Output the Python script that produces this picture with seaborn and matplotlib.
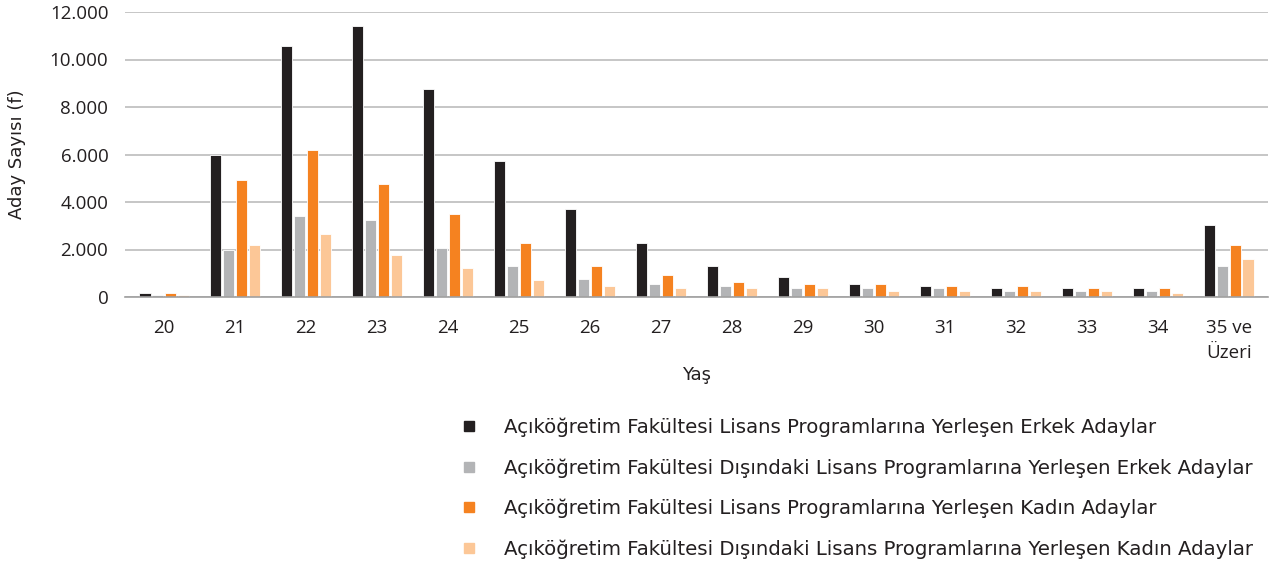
import numpy as np
import pandas as pd
import matplotlib.pyplot as plt
import matplotlib.ticker as mticker
from matplotlib.lines import Line2D
import seaborn as sns

# Data
ages = ["20", "21", "22", "23", "24", "25", "26", "27", "28", "29",
        "30", "31", "32", "33", "34", "35 ve\nÜzeri"]
aof_erkek = [150, 6000, 10580, 11430, 8750, 5710, 3700, 2270, 1320, 840,
             550, 460, 370, 370, 370, 3040]
diger_erkek = [70, 2000, 3410, 3230, 2060, 1300, 760, 550, 450, 370,
               370, 370, 270, 270, 270, 1320]
aof_kadin = [150, 4940, 6170, 4750, 3510, 2260, 1320, 940, 650, 550,
             550, 460, 460, 370, 370, 2180]
diger_kadin = [70, 2170, 2640, 1780, 1220, 730, 450, 370, 370, 370,
               270, 270, 270, 270, 170, 1600]

series_names = [
    "Açıköğretim Fakültesi Lisans Programlarına Yerleşen Erkek Adaylar",
    "Açıköğretim Fakültesi Dışındaki Lisans Programlarına Yerleşen Erkek Adaylar",
    "Açıköğretim Fakültesi Lisans Programlarına Yerleşen Kadın Adaylar",
    "Açıköğretim Fakültesi Dışındaki Lisans Programlarına Yerleşen Kadın Adaylar",
]
colors = ["#231f20", "#b3b4b6", "#f58220", "#fcc797"]

rows = []
for name, vals in zip(series_names, [aof_erkek, diger_erkek, aof_kadin, diger_kadin]):
    for age, v in zip(ages, vals):
        rows.append({"Yaş": age, "Aday": v, "Grup": name})
df = pd.DataFrame(rows)

sns.set_style("white")
plt.rcParams["font.family"] = ["Open Sans", "DejaVu Sans"]
label_font = ["DejaVu Sans"]
text_color = "#231f20"

fig = plt.figure(figsize=(12.78, 5.66), dpi=100)
ax = fig.add_axes([125 / 1278, 1 - 297 / 566, (1268 - 125) / 1278, (297 - 12) / 566])

sns.barplot(data=df, x="Yaş", y="Aday", hue="Grup", palette=colors,
            width=0.72, gap=0.12, ax=ax, legend=False, saturation=1,
            edgecolor="white", linewidth=0.6)

ax.set_ylim(0, 12000)
ax.set_xlim(-0.55, len(ages) - 0.45)
ax.set_yticks(np.arange(0, 12001, 2000))
ax.yaxis.set_major_formatter(mticker.FuncFormatter(lambda v, p: f"{int(v):,}".replace(",", ".")))
ax.grid(axis="y", color="#bcbcbc", linewidth=1.2)
ax.set_axisbelow(True)
for s in ["top", "right", "left"]:
    ax.spines[s].set_visible(False)
ax.spines["bottom"].set_color("#a0a0a0")
ax.spines["bottom"].set_linewidth(1.2)
ax.tick_params(axis="y", length=0, labelsize=13.5, colors=text_color, pad=12)
ax.tick_params(axis="x", length=0, labelsize=13.5, colors=text_color, pad=16)
for t in ax.get_xticklabels():
    t.set_linespacing(1.45)
ax.set_xlabel("Yaş", fontsize=13, color=text_color, labelpad=3, family=label_font)
ax.set_ylabel("Aday Sayısı (f)", fontsize=13, color=text_color, labelpad=17, family=label_font)

handles = [Line2D([], [], marker="s", linestyle="none", markersize=7.5,
                  markerfacecolor=c, markeredgecolor=c) for c in colors]
fig.legend(handles, series_names, loc="upper left", bbox_to_anchor=(441 / 1278, 1 - 410 / 566),
           frameon=False, prop={"family": label_font, "size": 14.2}, labelcolor=text_color,
           handletextpad=0.8, labelspacing=1.06, borderaxespad=0)

fig.savefig("out.png", dpi=100)
